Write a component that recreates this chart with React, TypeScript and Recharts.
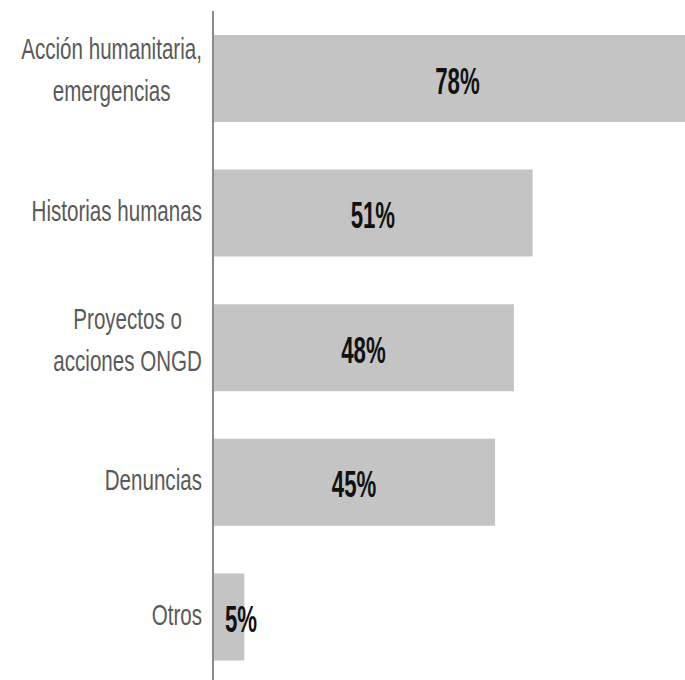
import { BarChart, Bar, XAxis, YAxis, LabelList } from 'recharts';

const categories = ['Acción humanitaria,\nemergencias', 'Historias humanas', 'Proyectos o\nacciones ONGD', 'Denuncias', 'Otros'];
const percents = [78, 51, 48, 45, 5];

const data = categories.map((name, i) => ({ name, value: percents[i] }));

const LABEL_FONT = '"Liberation Sans", Arial, sans-serif';
const TICK_SIZE = 29;
const TICK_SCALE = 0.71;
const VALUE_SIZE = 37;
const VALUE_SCALE = 0.6;

let ctx: CanvasRenderingContext2D | null = null;
function measure(text: string, font: string): number {
  if (!ctx) ctx = document.createElement('canvas').getContext('2d');
  if (!ctx) return text.length * 14;
  ctx.font = font;
  return ctx.measureText(text).width;
}

function CategoryTick(props: any) {
  const { x, y, payload } = props;
  const lines: string[] = String(payload.value).split('\n');
  const widths = lines.map((l) => measure(l, `${TICK_SIZE}px ${LABEL_FONT}`) * TICK_SCALE);
  const blockW = Math.max(...widths);
  const cx = x - blockW / 2;
  const n = lines.length;
  return (
    <g>
      {lines.map((line, i) => {
        const by = y + 8 + (i - (n - 1) / 2) * 42 - (n - 1) * 6;
        return (
          <text
            key={i}
            transform={`translate(${cx},${by}) scale(${TICK_SCALE},1)`}
            textAnchor="middle"
            fontFamily={LABEL_FONT}
            fontSize={TICK_SIZE}
            fill="#595959"
          >
            {line}
          </text>
        );
      })}
    </g>
  );
}

function ValueLabel(props: any) {
  const { x, y, width, height, value } = props;
  const cx = Math.max(x + width / 2, x + 28);
  const cy = y + height / 2 + 15;
  return (
    <text
      transform={`translate(${cx},${cy}) scale(${VALUE_SCALE},1)`}
      textAnchor="middle"
      fontFamily={LABEL_FONT}
      fontWeight="bold"
      fontSize={VALUE_SIZE}
      fill="#111111"
    >
      {`${value}%`}
    </text>
  );
}

export default function App() {
  return (
    <div style={{ position: 'absolute', left: 0, top: 0, width: 685, height: 680, overflow: 'hidden', background: '#fff' }}>
      <BarChart
        width={685}
        height={684}
        data={data}
        layout="vertical"
        margin={{ top: 11, right: 0, bottom: 0, left: 0 }}
      >
        <XAxis type="number" domain={[0, 75.3]} allowDataOverflow hide />
        <YAxis
          type="category"
          dataKey="name"
          width={213}
          axisLine={{ stroke: '#8a8a8a', strokeWidth: 2 }}
          tickLine={false}
          tickSize={0}
          tickMargin={11}
          tick={<CategoryTick />}
          interval={0}
        />
        <Bar dataKey="value" fill="#c4c4c4" barSize={87} isAnimationActive={false}>
          <LabelList dataKey="value" content={<ValueLabel />} />
        </Bar>
      </BarChart>
    </div>
  );
}
